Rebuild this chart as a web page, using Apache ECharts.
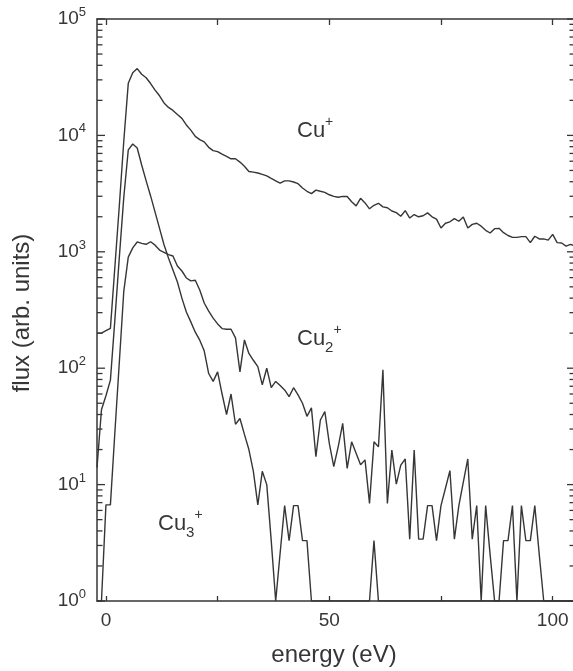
<!DOCTYPE html>
<html>
<head>
<meta charset="utf-8">
<script src="https://cdn.jsdelivr.net/npm/echarts@6/dist/echarts.min.js"></script>
<style>
  html, body { margin: 0; padding: 0; background: #ffffff; }
  #chart { width: 573px; height: 671px; }
</style>
</head>
<body>
<div id="chart"></div>
<script>
// Ion energy distributions of copper cluster ions (1 eV bins, -2 ... 105 eV)
const energy = [
  -2, -1, 0, 1, 2, 3, 4, 5, 6, 7,
  8, 9, 10, 11, 12, 13, 14, 15, 16, 17,
  18, 19, 20, 21, 22, 23, 24, 25, 26, 27,
  28, 29, 30, 31, 32, 33, 34, 35, 36, 37,
  38, 39, 40, 41, 42, 43, 44, 45, 46, 47,
  48, 49, 50, 51, 52, 53, 54, 55, 56, 57,
  58, 59, 60, 61, 62, 63, 64, 65, 66, 67,
  68, 69, 70, 71, 72, 73, 74, 75, 76, 77,
  78, 79, 80, 81, 82, 83, 84, 85, 86, 87,
  88, 89, 90, 91, 92, 93, 94, 95, 96, 97,
  98, 99, 100, 101, 102, 103, 104, 105
];

// Cu+
const fluxCu1 = [
  200, 200, 210, 220, 740, 2500, 9000, 28000, 34500, 37500,
  33500, 31300, 27900, 24500, 21900, 19000, 17400, 16400, 15100, 14000,
  12300, 11100, 9800, 9200, 8800, 7900, 7400, 7250, 6900, 6600,
  6300, 6300, 5900, 5430, 4900, 4840, 4750, 4620, 4490, 4270,
  4070, 3890, 4070, 4070, 3980, 3850, 3530, 3310, 3160, 3390,
  3310, 3240, 3090, 2990, 2940, 2990, 2990, 2690, 2480, 2880,
  2630, 2340, 2510, 2610, 2430, 2390, 2240, 2170, 2020, 2260,
  1950, 2090, 2000, 2040, 2160, 2000, 1910, 1600, 1760, 1810,
  1930, 1830, 1990, 1600, 1720, 1760, 1660, 1530, 1450, 1580,
  1590, 1460, 1380, 1330, 1330, 1350, 1350, 1200, 1360, 1290,
  1290, 1260, 1410, 1200, 1190, 1120, 1160, 1120
];

// Cu2+
const fluxCu2 = [
  1, 1, 6.7, 6.7, 28, 113, 460, 900, 1080, 1215,
  1180, 1160, 1220, 1140, 1035, 990, 945, 920, 755, 684,
  596, 562, 569, 470, 363, 309, 269, 240, 219, 216,
  216, 182, 93, 175, 134, 117, 103, 72, 100, 68,
  77, 71, 65, 57, 68, 59, 50, 38.6, 45.6, 17.4,
  35.9, 42.3, 22.6, 14.3, 21.2, 33.6, 13.8, 23.3, 18.6, 14.8,
  16.3, 6.9, 23.3, 21.1, 96.7, 6.9, 19.8, 10.1, 14.7, 16.6,
  3.4, 19.8, 3.4, 3.4, 6.6, 6.6, 3.3, 6.6, 9.3, 13.2,
  3.4, 6.6, 10.5, 16.6, 3.4, 6.6, 1, 6.6, 2.5, 1,
  1, 3.3, 3.3, 6.6, 1, 6.6, 3.3, 3.3, 6.6, 2.5,
  1, 1, 1, 1, 1, 1, 1, 1
];

// Cu3+
const fluxCu3 = [
  14, 44, 58, 79, 260, 900, 2950, 7500, 8430, 7800,
  5570, 4070, 3020, 2190, 1590, 1150, 885, 698, 550, 400,
  304, 250, 204, 174, 141, 90, 77, 93, 60, 40,
  60, 33, 37, 27, 20, 13, 6.7, 13, 10, 3.3,
  1, 2.6, 6.6, 3.3, 6.6, 6.6, 3.3, 3.3, 1, 1,
  1, 1, 1, 1, 1, 1, 1, 1, 1, 1,
  1, 1, 3.3, 1, 1, 1, 1, 1, 1, 1,
  1, 1, 1, 1, 1, 1, 1, 1, 1, 1,
  1, 1, 1, 1, 1, 1, 1, 1, 1, 1,
  1, 1, 1, 1, 1, 1, 1, 1, 1, 1,
  1, 1, 1, 1, 1, 1, 1, 1
];

const xTickValues = [0, 25, 50, 75, 100];
const xLabelValues = [0, 50, 100];
const yDecadeValues = [1, 10, 100, 1000, 10000, 100000];
const minorMultipliers = [2, 3, 4, 5, 6, 7, 8, 9];

const X_MIN = -2, X_MAX = 105;
const Y_MIN = 1, Y_MAX = 100000;

const INK = '#363636';
const FONT = '"Liberation Sans", Arial, Helvetica, sans-serif';

const chart = echarts.init(document.getElementById('chart'), null, { renderer: 'canvas' });

const toPairs = arr => energy.map((e, i) => [e, arr[i]]);

// tick rows for the log axis: [x, value, tick length]
const yTickRows = [];
yDecadeValues.forEach(v => yTickRows.push([X_MIN, v, 8]));
for (let d = 0; d < 5; d++) {
  minorMultipliers.forEach(m => yTickRows.push([X_MIN, m * Math.pow(10, d), 5.5]));
}

const curve = (name, data) => ({
  name,
  type: 'line',
  xAxisIndex: 0,
  yAxisIndex: 0,
  data: toPairs(data),
  showSymbol: false,
  symbol: 'none',
  smooth: false,
  clip: true,
  lineStyle: { color: INK, width: 1.4 },
  emphasis: { disabled: true },
  z: 3
});

const ionLabel = (left, top, sub) => ({
  type: 'text',
  x: left,
  y: top,
  silent: true,
  style: {
    text: sub ? '{b|Cu}{sub|' + sub + '}{sup|+}' : '{b|Cu}{sup|+}',
    align: 'left',
    verticalAlign: 'middle',
    fill: INK,
    rich: {
      b: { fontSize: 22, fontFamily: FONT, lineHeight: 32, verticalAlign: 'middle', fill: INK },
      sub: { fontSize: 15, fontFamily: FONT, lineHeight: 14, verticalAlign: 'bottom', fill: INK },
      sup: { fontSize: 14, fontFamily: FONT, lineHeight: 20, verticalAlign: 'top', fill: INK }
    }
  }
});

const option = {
  backgroundColor: '#ffffff',
  animation: false,
  textStyle: { fontFamily: FONT, color: INK },
  grid: {
    left: 97,
    top: 19,
    width: 478,
    height: 582,
    containLabel: false,
    outerBoundsMode: 'none',
    show: false
  },
  xAxis: [
    {
      type: 'value',
      position: 'bottom',
      min: X_MIN,
      max: X_MAX,
      axisLine: { show: true, onZero: false, lineStyle: { color: INK, width: 1.5 } },
      axisTick: { show: true, inside: true, length: 5, customValues: xTickValues, lineStyle: { color: INK, width: 1.3 } },
      axisLabel: { show: true, customValues: xLabelValues, margin: 10, fontSize: 19, color: INK, fontFamily: FONT },
      splitLine: { show: false }
    },
    {
      type: 'value',
      position: 'top',
      min: X_MIN,
      max: X_MAX,
      axisLine: { show: true, onZero: false, lineStyle: { color: INK, width: 1.5 } },
      axisTick: { show: true, inside: true, length: 6, customValues: xTickValues, lineStyle: { color: INK, width: 1.3 } },
      axisLabel: { show: false },
      splitLine: { show: false }
    }
  ],
  yAxis: [
    {
      type: 'log',
      logBase: 10,
      min: Y_MIN,
      max: Y_MAX,
      axisLine: { show: true, onZero: false, lineStyle: { color: INK, width: 1.5 } },
      axisTick: { show: false },
      minorTick: { show: false },
      splitLine: { show: false },
      axisLabel: {
        show: true,
        customValues: yDecadeValues,
        margin: 11,
        formatter: v => '{b|10}{e|' + Math.round(Math.log10(v)) + '}',
        rich: {
          b: { fontSize: 19, fontFamily: FONT, color: INK, lineHeight: 26, verticalAlign: 'middle' },
          e: { fontSize: 13, fontFamily: FONT, color: INK, lineHeight: 12, verticalAlign: 'top' }
        }
      }
    }
  ],
  series: [
    curve('Cu+', fluxCu1),
    curve('Cu2+', fluxCu2),
    curve('Cu3+', fluxCu3),
    {
      name: 'log ticks',
      type: 'custom',
      xAxisIndex: 0,
      yAxisIndex: 0,
      silent: true,
      clip: false,
      encode: { x: 0, y: 1 },
      data: yTickRows,
      renderItem: (params, api) => {
        const v = api.value(1);
        const len = api.value(2);
        const pL = api.coord([X_MIN, v]);
        const pR = api.coord([X_MAX, v]);
        const st = { stroke: INK, lineWidth: 1.3 };
        return {
          type: 'group',
          children: [
            { type: 'line', shape: { x1: pL[0], y1: pL[1], x2: pL[0] + len, y2: pL[1] }, style: st },
            { type: 'line', shape: { x1: pR[0] - len, y1: pR[1], x2: pR[0], y2: pR[1] }, style: st }
          ]
        };
      },
      z: 4
    }
  ],
  graphic: [
    ionLabel(297, 131, null),
    ionLabel(297, 339, '2'),
    ionLabel(158, 524, '3'),
    {
      type: 'text',
      x: 334,
      y: 655,
      silent: true,
      style: { text: 'energy (eV)', align: 'center', verticalAlign: 'middle', fontSize: 24, fontFamily: FONT, fill: INK }
    },
    {
      type: 'text',
      x: 22,
      y: 313,
      rotation: Math.PI / 2,
      silent: true,
      style: { text: 'flux (arb. units)', align: 'center', verticalAlign: 'middle', fontSize: 24, fontFamily: FONT, fill: INK }
    }
  ]
};

chart.setOption(option);
</script>
</body>
</html>
